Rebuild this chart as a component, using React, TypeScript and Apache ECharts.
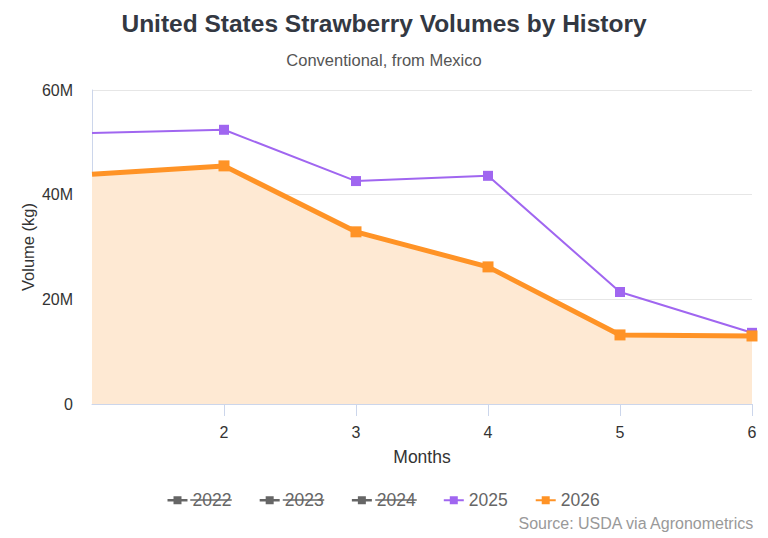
import React, { useEffect, useRef } from 'react';
import * as echarts from 'echarts';

const months = [1, 2, 3, 4, 5, 6];
const seriesNames = ['2022', '2023', '2024', '2025', '2026'];
// volumes in kg
const volumes2025 = [51800000, 52400000, 42600000, 43600000, 21400000, 13600000];
const volumes2026 = [43900000, 45500000, 32900000, 26200000, 13200000, 13000000];
const hiddenYears = ['2022', '2023', '2024'];
const yTicks = [0, 20000000, 40000000, 60000000];

const purple = '#a066f0';
const orange = '#ff9326';

const toPoints = (values: number[]) =>
  values.map((v, i) => (i === 0 ? { value: [months[i], v], symbol: 'none' } : { value: [months[i], v] }));

// legend geometry (used to strike through the hidden years)
const legendItemW = 20;
const legendFont = 17.5;
const legendTextW = 40.5; // rendered width of a 4-digit year
const legendGap = 27;
const legendStep = legendItemW + 5 + legendTextW + legendGap;
const legendLeft = (768 - (seriesNames.length * legendStep - legendGap)) / 2;
const legendMidY = 500;

const App: React.FC = () => {
  const chartRef = useRef<HTMLDivElement>(null);

  useEffect(() => {
    if (!chartRef.current) return;
    const chart = echarts.init(chartRef.current, undefined, { renderer: 'svg' });

    const font = '"Liberation Sans", Arial, sans-serif';

    const strikes = hiddenYears.map((y) => {
      const i = seriesNames.indexOf(y);
      const x1 = legendLeft + i * legendStep + legendItemW + 5;
      return {
        type: 'line' as const,
        z: 100,
        shape: { x1: x1 - 1, y1: legendMidY, x2: x1 + legendTextW, y2: legendMidY },
        style: { stroke: '#666', lineWidth: 1.4 },
      };
    });

    const option: echarts.EChartsOption = {
      animation: false,
      backgroundColor: '#fff',
      textStyle: { fontFamily: font },
      title: [
        {
          text: 'United States Strawberry Volumes by History',
          left: 'center',
          top: 6,
          textStyle: { fontSize: 24.5, fontWeight: 'bold', color: '#333842', fontFamily: font },
        },
        {
          text: 'Conventional, from Mexico',
          left: 'center',
          top: 46,
          textStyle: { fontSize: 16.5, fontWeight: 'normal', color: '#555', fontFamily: font },
        },
      ],
      legend: {
        data: seriesNames,
        left: legendLeft,
        top: legendMidY - legendFont / 2,
        padding: 0,
        itemWidth: legendItemW,
        itemHeight: 10,
        itemGap: legendGap,
        inactiveColor: '#666',
        inactiveBorderColor: '#666',
        lineStyle: { inactiveColor: '#666', inactiveWidth: 2.5 },
        selected: Object.fromEntries(hiddenYears.map((y) => [y, false])),
        textStyle: { fontSize: legendFont, color: '#666', fontFamily: font },
      },
      grid: { left: 92, right: 16, top: 90, bottom: 134 },
      xAxis: {
        type: 'value',
        min: 1,
        max: 6,
        interval: 1,
        name: 'Months',
        nameLocation: 'middle',
        nameGap: 44,
        nameTextStyle: { fontSize: 17.5, color: '#333', fontFamily: font },
        axisLine: { show: true, lineStyle: { color: '#ccd6eb' } },
        axisTick: { show: true, length: 12, lineStyle: { color: '#ccd6eb' } },
        splitLine: { show: false },
        axisLabel: { showMinLabel: false, margin: 20, fontSize: 16, color: '#333', fontFamily: font },
      },
      yAxis: {
        type: 'value',
        min: yTicks[0],
        max: yTicks[yTicks.length - 1],
        interval: yTicks[1] - yTicks[0],
        name: 'Volume (kg)',
        nameLocation: 'middle',
        nameGap: 56,
        nameMoveOverlap: false,
        nameTextStyle: { fontSize: 16.5, color: '#333', fontFamily: font },
        axisLine: { show: true, lineStyle: { color: '#ccd6eb' } },
        axisTick: { show: false },
        splitLine: { show: true, lineStyle: { color: '#e6e6e6' } },
        axisLabel: {
          margin: 19,
          fontSize: 16,
          color: '#333',
          fontFamily: font,
          formatter: (v: number) => (v === 0 ? '0' : `${v / 1000000}M`),
        },
      },
      series: [
        ...hiddenYears.map((y) => ({
          name: y,
          type: 'line' as const,
          data: [] as number[][],
          symbol: 'rect',
          symbolSize: 10,
          lineStyle: { width: 2, color: '#666' },
          itemStyle: { color: '#666' },
        })),
        {
          name: '2025',
          type: 'line',
          data: toPoints(volumes2025),
          symbol: 'rect',
          symbolSize: 10,
          lineStyle: { width: 2, color: purple },
          itemStyle: { color: purple },
        },
        {
          name: '2026',
          type: 'line',
          data: toPoints(volumes2026),
          symbol: 'rect',
          symbolSize: 11,
          lineStyle: { width: 5, color: orange },
          itemStyle: { color: orange },
          areaStyle: { color: '#fee9d3', opacity: 1 },
        },
      ],
      graphic: [
        {
          type: 'text',
          right: 13,
          top: 515,
          style: { text: 'Source: USDA via Agronometrics', fontSize: 16, fill: '#999', fontFamily: font },
        },
        ...strikes,
      ],
    };

    chart.setOption(option);

    return () => {
      chart.dispose();
    };
  }, []);

  return (
    <div
      ref={chartRef}
      style={{ position: 'fixed', left: 0, top: 0, width: 768, height: 538 }}
    />
  );
};

export default App;
